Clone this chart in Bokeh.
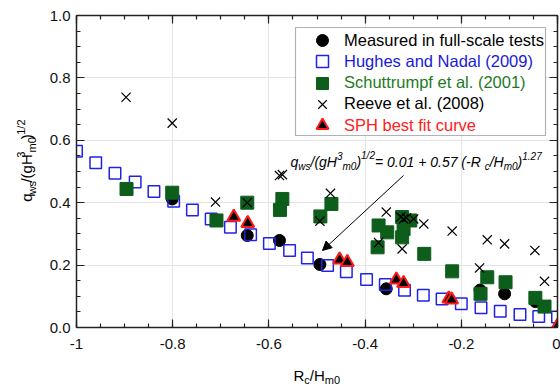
import math
from bokeh.plotting import figure
from bokeh.layouts import column, row
from bokeh.models import (Range1d, LinearAxis, FixedTicker, NumeralTickFormatter, Legend,
                          LegendItem, BoxAnnotation, Label, Arrow, NormalHead,
                          CustomJSTickFormatter)
from bokeh.embed import file_html
from bokeh.resources import INLINE

# ---------------- data ----------------
measured_x = [-0.801, -0.645, -0.578, -0.494, -0.356, -0.161, -0.110, -0.046]
measured_y = [0.412, 0.295, 0.279, 0.202, 0.124, 0.120, 0.108, 0.083]

hughes_x = [-1.0, -0.96, -0.92, -0.878, -0.839, -0.798, -0.759, -0.72, -0.68, -0.638,
            -0.599, -0.557, -0.52, -0.478, -0.439, -0.397, -0.358, -0.318, -0.279, -0.24,
            -0.2, -0.159, -0.119, -0.078, -0.039, 0.0]
hughes_y = [0.565, 0.528, 0.494, 0.466, 0.436, 0.405, 0.377, 0.348, 0.321, 0.297,
            0.269, 0.247, 0.223, 0.199, 0.179, 0.154, 0.138, 0.119, 0.103, 0.091,
            0.076, 0.063, 0.052, 0.042, 0.035, 0.034]

schut_x = [-0.896, -0.801, -0.709, -0.645, -0.572, -0.577, -0.470, -0.493, -0.372, -0.354,
           -0.374, -0.323, -0.306, -0.320, -0.323, -0.277, -0.219, -0.146, -0.108, -0.160,
           -0.046, -0.027]
schut_y = [0.444, 0.432, 0.343, 0.400, 0.412, 0.377, 0.396, 0.356, 0.327, 0.305,
           0.257, 0.354, 0.343, 0.316, 0.289, 0.236, 0.180, 0.161, 0.145, 0.108,
           0.095, 0.067]

reeve_x = [-0.897, -0.801, -0.578, -0.572, -0.711, -0.645, -0.472, -0.494, -0.356, -0.372,
           -0.326, -0.320, -0.314, -0.299, -0.278, -0.323, -0.219, -0.146, -0.110, -0.047,
           -0.162, -0.027]
reeve_y = [0.738, 0.655, 0.487, 0.490, 0.402, 0.400, 0.430, 0.341, 0.370, 0.272,
           0.354, 0.348, 0.352, 0.348, 0.332, 0.252, 0.309, 0.281, 0.268, 0.247,
           0.191, 0.148]

sph_x = [-0.673, -0.644, -0.453, -0.437, -0.335, -0.320, -0.226, -0.220, 0.0]
sph_y = [0.354, 0.334, 0.217, 0.209, 0.153, 0.142, 0.092, 0.089, 0.005]

x_ticks = [-1.0, -0.8, -0.6, -0.4, -0.2, 0.0]
y_ticks = [0.0, 0.2, 0.4, 0.6, 0.8, 1.0]
x_minor = [round(-1 + 0.05 * i, 2) for i in range(21)]
y_minor = [round(0.05 * i, 2) for i in range(21)]

legend_labels = ["Measured in full-scale tests", "Hughes and Nadal (2009)",
                 "Schuttrumpf et al. (2001)", "Reeve et al. (2008)", "SPH best fit curve"]

# ---------------- layout helpers ----------------
FONT = "Liberation Sans"
AXC = "#222222"
PAGE_W, PAGE_H = 560, 384
STRIP_L = 40            # width of the left strip holding the y title
STRIP_B = 27            # height of the bottom strip holding the x title
L, R, T, B = 76, 557, 15, 327  # frame edges in page pixels


def dx(cx):
    return -1 + (cx - L) / (R - L)


def dy(cy):
    return (B - cy) / (B - T)


WID = {'q': .556, 'w': .722, 's': .5, '/': .278, '(': .333, 'g': .556, 'H': .722,
       '3': .556, 'm': .833, '0': .556, ')': .333, '1': .556, '2': .556, ' ': .278,
       '=': .584, '.': .278, '+': .584, '5': .556, '7': .556, '-': .333, 'R': .722, 'c': .5}


def tw(s, size):
    return sum(WID.get(ch, .556) for ch in s) * size


main_h = PAGE_H - STRIP_B
p = figure(width=PAGE_W - STRIP_L, height=main_h, output_backend="svg",
           toolbar_location=None, x_range=Range1d(-1, 0), y_range=Range1d(0, 1),
           min_border_left=L - STRIP_L, min_border_right=PAGE_W - R, min_border_top=T,
           min_border_bottom=main_h - B, x_axis_location=None, y_axis_location=None,
           background_fill_color="white", border_fill_color="white")
p.outline_line_color = None


def make_axis(ticks, minor, labels, fmt):
    ax = LinearAxis(ticker=FixedTicker(ticks=ticks, minor_ticks=minor))
    ax.major_tick_in = 8
    ax.major_tick_out = 0
    ax.minor_tick_in = 4
    ax.minor_tick_out = 0
    ax.axis_line_width = 1.5
    ax.axis_line_color = AXC
    ax.major_tick_line_color = AXC
    ax.minor_tick_line_color = AXC
    ax.major_tick_line_width = 1.2
    ax.minor_tick_line_width = 1.2
    if labels:
        ax.formatter = NumeralTickFormatter(format=fmt)
        ax.major_label_text_font = FONT
        ax.major_label_text_font_size = "15px"
        ax.major_label_text_color = "#111111"
    else:
        ax.formatter = CustomJSTickFormatter(code="return ''")
        ax.major_label_standoff = 0
    return ax


bottom = make_axis(x_ticks, x_minor, True, "0.[0]")
bottom.major_label_standoff = 11
left = make_axis(y_ticks, y_minor, True, "0.0")
left.major_label_standoff = 6
top = make_axis(x_ticks, x_minor, False, "0.[0]")
right = make_axis(y_ticks, y_minor, False, "0.0")
p.add_layout(bottom, "below")
p.add_layout(left, "left")
p.add_layout(top, "above")
p.add_layout(right, "right")

# ---------------- data glyphs ----------------
r_meas = p.scatter(measured_x, measured_y, marker="circle", size=12,
                   fill_color="black", line_color="black")
r_hug = p.scatter(hughes_x, hughes_y, marker="square", size=11.5, fill_color=None,
                  line_color="#2222e6", line_width=1.5)
r_sch = p.scatter(schut_x, schut_y, marker="square", size=13, fill_color="#0d5e1b",
                  line_color="#0d5e1b")
r_ree = p.scatter(reeve_x, reeve_y, marker="x", size=13, line_color="black", line_width=1.2)
r_sph = p.scatter(sph_x, sph_y, marker="triangle", size=13, fill_color="black",
                  line_color="#ff1a1a", line_width=2)

# ---------------- legend ----------------
p.add_layout(BoxAnnotation(left=dx(295), right=dx(545), top=dy(27), bottom=dy(135),
                           fill_color="white", fill_alpha=1.0, line_color="black",
                           line_width=1.2))
leg_cols = ["black", "#1a1ad6", "#1e7a1e", "black", "#ff2020"]
for i, (rend, txt, col) in enumerate(zip([r_meas, r_hug, r_sch, r_ree, r_sph],
                                         legend_labels, leg_cols)):
    yc = 40 + i * 21.3
    lg = Legend(items=[LegendItem(label=txt, renderers=[rend])],
                location=(231, B - (yc + 15)), padding=0, margin=0, spacing=0,
                glyph_width=30, glyph_height=30, label_height=30, label_standoff=7,
                label_text_font=FONT, label_text_font_size="16.5px",
                label_text_color=col, label_text_baseline="middle",
                border_line_color=None, background_fill_alpha=0)
    p.add_layout(lg, "center")


# ---------------- rich text helper ----------------
def rich(fig, conv_x, conv_y, pieces, cx, cy, size, small, sub, sup, italic=False,
         vertical=False, color="black"):
    pos = cx if not vertical else cy
    for txt, kind in pieces:
        fs = size if kind == "n" else small
        shift = 0 if kind == "n" else (sub if kind == "sub" else -sup)
        if vertical:
            lab = Label(x=conv_x(cx + shift), y=conv_y(pos), text=txt, angle=math.pi / 2,
                        text_align="left", text_baseline="alphabetic")
            pos -= tw(txt, fs)
        else:
            lab = Label(x=conv_x(pos), y=conv_y(cy + shift), text=txt,
                        text_align="left", text_baseline="alphabetic")
            pos += tw(txt, fs)
        lab.text_font = FONT
        lab.text_font_size = f"{fs}px"
        lab.text_color = color
        if italic:
            lab.text_font_style = "italic"
        fig.add_layout(lab)


formula = [("q", "n"), ("ws", "sub"), ("/(gH", "n"), ("3", "sup"), ("m0", "sub"),
           (")", "n"), ("1/2", "sup"), (" = 0.01 + 0.57 (-R", "n"), ("c", "sub"),
           ("/H", "n"), ("m0", "sub"), (")", "n"), ("1.27", "sup")]
rich(p, dx, dy, formula, 290, 161, 14, 10, 5, 6, italic=True)

p.add_layout(Arrow(end=NormalHead(size=9, fill_color="black", line_color="black"),
                   x_start=dx(403), y_start=dy(175), x_end=dx(322), y_end=dy(250),
                   line_color="black", line_width=1))


# ---------------- title strips (pixel-coordinate figures) ----------------
def strip(w, h, x0, y0):
    f = figure(width=w, height=h, output_backend="svg", toolbar_location=None,
               x_range=Range1d(x0, x0 + w), y_range=Range1d(y0 + h, y0),
               x_axis_location=None, y_axis_location=None,
               min_border=0, min_border_left=0, min_border_right=0,
               min_border_top=0, min_border_bottom=0,
               background_fill_color="white", border_fill_color="white")
    f.outline_line_color = None
    f.grid.visible = False
    return f


ident = lambda v: v
left_strip = strip(STRIP_L, main_h, 0, 0)
ylab = [("q", "n"), ("ws", "sub"), ("/(gH", "n"), ("3", "sup"), ("m0", "sub"),
        (")", "n"), ("1/2", "sup")]
rich(left_strip, ident, ident, ylab, 26, 213, 15, 11, 5, 6, vertical=True)

bottom_strip = strip(PAGE_W, STRIP_B, 0, main_h)
xlab = [("R", "n"), ("c", "sub"), ("/H", "n"), ("m0", "sub")]
rich(bottom_strip, ident, ident, xlab, 293, 375, 15, 11, 4, 5)

layout = column(row(left_strip, p, spacing=0), bottom_strip, spacing=0)
open("out.html", "w").write(file_html(layout, INLINE))
